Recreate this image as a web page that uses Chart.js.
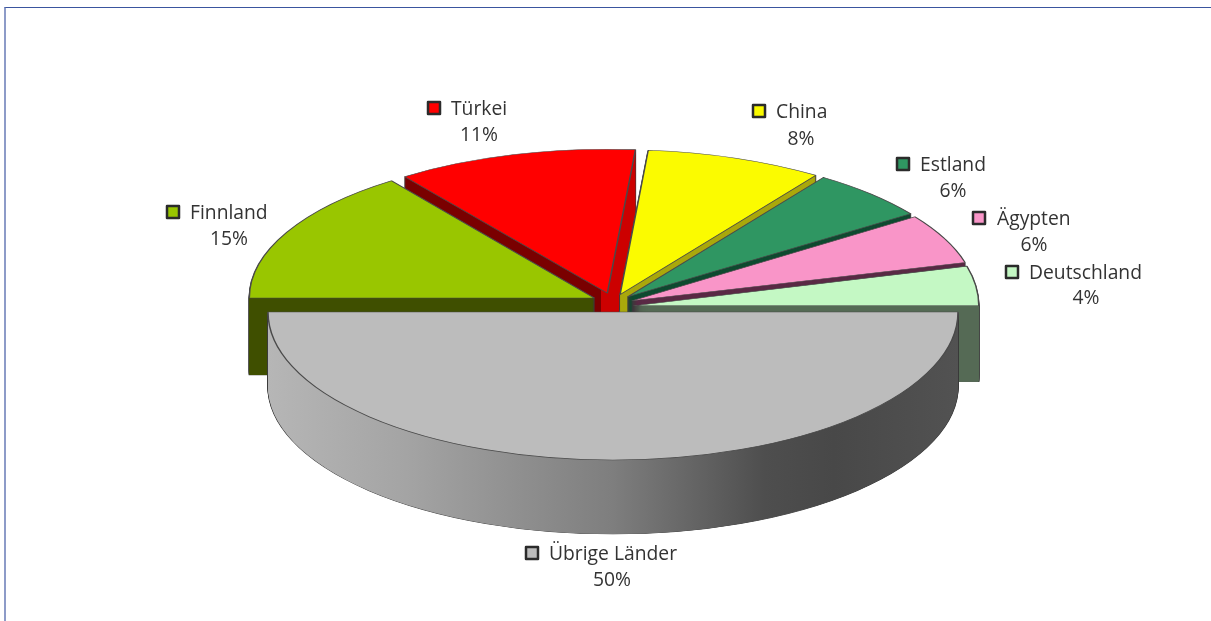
<!DOCTYPE html>
<html lang="de">
<head>
  <meta charset="UTF-8">
  <title>Länderanteile</title>
  <style>
    html, body { margin: 0; padding: 0; background: #fff; }
    #wrap { position: relative; width: 1211px; height: 621px; overflow: hidden; }
    #frame { position: absolute; left: 4px; top: 7px; right: 0; bottom: 0; border-top: 1px solid #3a559f; border-left: 2px solid #8d9bc8; }
    canvas { position: absolute; left: 0; top: 0; }
  </style>
</head>
<body>
  <div id="wrap">
    <canvas id="pie" width="1211" height="621"></canvas>
    <div id="frame"></div>
  </div>

  <script src="https://cdn.jsdelivr.net/npm/chart.js"></script>
  <script>
    const countries = ['Finnland', 'Türkei', 'China', 'Estland', 'Ägypten', 'Deutschland', 'Übrige Länder'];
    const shares = [15, 11.3, 8.3, 5.7, 5.5, 4.2, 50];

    const topColors = ['#99c600', '#ff0000', '#fbfb00', '#2f9662', '#f995c8', '#c4f8c4', '#bcbcbc'];
    const sideColors = ['#3f4f00', '#7a0000', '#aaa80c', '#0f4a30', '#5a2a45', '#556b55', '#6a6a6a'];

    // label anchors: swatch left, swatch mid y, name left, percent centre x, percent mid y
    const labelSpots = [
      [166, 212, 190, 229, 239],
      [427, 108, 451, 479, 135],
      [752, 111, 776, 801, 139],
      [896, 164, 920, 953, 191],
      [972, 218, 997, 1034, 245],
      [1005, 272, 1029, 1086, 298],
      [525, 553, 549, 612, 580]
    ];

    const explode = 21;     // how far each slice is pulled out
    // per slice tweaks, the original is a perspective view so the back is flatter than the front
    const sliceSquash = [0.42, 0.417, 0.42, 0.42, 0.425, 0.44, 0.429];
    const sliceDepth = [77, 76, 76, 76, 76, 76, 74];
    const sliceNudge = [-1, -1.5, 0, 0, 1.5, 4, 0];
    // walls are painted from the back outwards, the big front slice last
    const wallOrder = [1, 2, 3, 4, 5, 0, 6];

    function sideFill(ctx, i) {
      if (i === 1) {   // Türkei: the cut on the right catches more light
        const g = ctx.createLinearGradient(0, 0, 1211, 0);
        const stop = 607 / 1211;
        g.addColorStop(0, '#7a0000');
        g.addColorStop(stop, '#7a0000');
        g.addColorStop(stop, '#cc0000');
        g.addColorStop(1, '#cc0000');
        return g;
      }
      if (i === 6) {   // grey slice wall
        const g = ctx.createLinearGradient(268, 0, 958, 0);
        g.addColorStop(0, '#b6b6b6');
        g.addColorStop(0.2, '#a4a4a4');
        g.addColorStop(0.5, '#7e7e7e');
        g.addColorStop(0.72, '#4e4e4e');
        g.addColorStop(0.82, '#484848');
        g.addColorStop(1, '#525252');
        return g;
      }
      return sideColors[i];
    }

    function drawSlice(ctx, el, i, dy, opts) {
      const mid = (el.startAngle + el.endAngle) / 2;
      const ghost = Object.create(el);
      ghost.options = Object.assign({}, el.options, opts);
      ctx.save();
      ctx.translate(0, dy + sliceNudge[i] + el.y);
      ctx.scale(1, sliceSquash[i]);
      ctx.translate(0, -el.y);
      ctx.translate(Math.cos(mid) * explode, Math.sin(mid) * explode);
      ghost.draw(ctx);
      ctx.restore();
    }

    const tiltedPie = {
      id: 'tiltedPie',
      beforeDatasetsDraw(chart) {
        const ctx = chart.ctx;
        const arcs = chart.getDatasetMeta(0).data;
        wallOrder.forEach(i => {
          const el = arcs[i];
          const fill = sideFill(ctx, i);
          for (let d = sliceDepth[i]; d >= 1; d--) {
            drawSlice(ctx, el, i, d, { backgroundColor: fill, borderColor: '#3c3c3c', borderWidth: 1.5 });
          }
          for (let d = sliceDepth[i]; d >= 1; d--) {
            drawSlice(ctx, el, i, d, { backgroundColor: fill, borderWidth: 0 });
          }
        });
        // then the top faces
        arcs.forEach((el, i) => drawSlice(ctx, el, i, 0, {}));
        return false;
      },
      afterDraw(chart) {
        const ctx = chart.ctx;
        ctx.save();
        ctx.font = '19.3px "Open Sans"';
        ctx.textBaseline = 'middle';
        ctx.lineJoin = 'round';
        countries.forEach((name, i) => {
          const [sx, sy, nx, px, py] = labelSpots[i];
          ctx.fillStyle = topColors[i];
          ctx.strokeStyle = '#2b2b2b';
          ctx.lineWidth = 2.5;
          ctx.fillRect(sx + 1, sy - 6, 12, 12);
          ctx.strokeRect(sx + 1, sy - 6, 12, 12);
          ctx.fillStyle = '#333';
          ctx.textAlign = 'left';
          ctx.fillText(name, nx, sy + 2);
          ctx.textAlign = 'center';
          ctx.fillText(Math.round(shares[i]) + '%', px, py + 1);
        });
        ctx.restore();
      }
    };

    new Chart(document.getElementById('pie'), {
      type: 'pie',
      data: {
        labels: countries,
        datasets: [{
          data: shares,
          backgroundColor: topColors,
          borderColor: '#4a4a4a',
          borderWidth: 1.5,
          borderJoinStyle: 'round'
        }]
      },
      options: {
        responsive: false,
        animation: false,
        rotation: 270,
        radius: 345,
        layout: { padding: { left: 15, bottom: 15 } },
        plugins: { legend: { display: false }, tooltip: { enabled: false } }
      },
      plugins: [tiltedPie]
    });
  </script>
</body>
</html>
